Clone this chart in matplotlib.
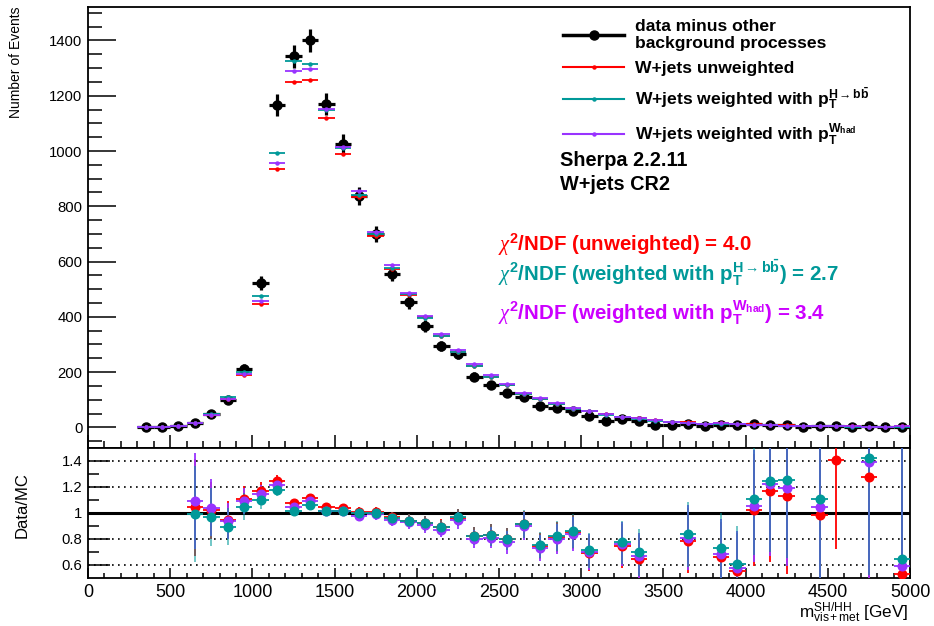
import numpy as np
import matplotlib
matplotlib.use("Agg")
import matplotlib.pyplot as plt
from matplotlib.lines import Line2D
from matplotlib.ticker import MultipleLocator, FixedLocator

plt.rcParams["font.family"] = ["Liberation Sans", "DejaVu Sans"]
plt.rcParams["mathtext.fontset"] = "custom"
plt.rcParams["mathtext.default"] = "regular"
plt.rcParams["mathtext.it"] = "Liberation Serif:italic"
plt.rcParams["mathtext.sf"] = "Liberation Sans"

# 100 GeV bins from 300 to 5000 GeV
bin_edges = np.arange(300, 5001, 100)

# data minus other backgrounds
data = [1, 2, 6, 16, 47, 98, 212, 523, 1167, 1342, 1400, 1171, 1026, 838, 700,
        555, 453, 366, 295, 265, 184, 153, 123, 111, 78, 70, 58, 42, 22, 29,
        22, 10, 9, 14, 6, 10, 7, 11, 9, 8, 2, 5, 6, 1, 4, 0.5, 2]
data_err = [1, 1.5, 2.5, 4.5, 8, 11.5, 16, 26, 39, 41, 43, 39, 37, 32, 29,
            26, 23, 21, 19, 18, 15.5, 14, 12.5, 12, 10, 9.5, 8.5, 7.5, 5.5, 6,
            5.5, 3.5, 3.5, 4.3, 3, 3.5, 3, 3.8, 3.5, 3.2, 1.6, 2.5, 2.8, 1.2, 2.3, 0.8, 1.6]

# W+jets predictions
mc_unw = [1, 2, 6, 15.3, 46, 103, 191, 448, 934, 1248, 1256, 1120, 989, 834, 692,
          573, 480, 398, 330, 273, 222, 183, 153, 121, 103, 85, 67, 60.5, 47, 39,
          34, 25, 20, 17.8, 14, 15.2, 12.6, 10.75, 7.7, 7.1, 6, 5.05, 4.25, 3.5, 3.15, 2.5, 3.8]
mc_hbb = [1, 2, 6, 16.2, 48.5, 109.5, 202, 475, 991, 1324, 1316, 1150, 1010, 840, 700,
          578, 481, 397, 331, 274, 223, 184, 154, 121, 103.5, 85.5, 67, 58.7, 46, 37.5,
          31.5, 24, 19, 16.7, 13, 13.7, 11.5, 9.9, 7.2, 6.4, 5.5, 4.5, 3.8, 3.2, 2.8, 2.3, 3.1]
mc_whad = [1, 2, 6, 14.6, 45, 104, 194, 456, 958, 1290, 1298, 1153, 1016, 855, 706,
           588, 488, 404, 337, 281, 229, 189, 158, 123, 106.5, 87.5, 69, 59.5, 47, 38,
           33, 25, 19.5, 17.2, 13.5, 14.6, 12.2, 10.4, 7.4, 6.7, 5.7, 4.75, 4, 3.3, 2.9, 2.4, 3.4]

nan = np.nan
# Data/MC ratios (NaN where outside the displayed range)
ratio_unw = [nan, nan, nan, 1.043, 1.02, 0.95, 1.11, 1.166, 1.25, 1.074, 1.112, 1.043, 1.036,
             1.005, 1.01, 0.966, 0.94, 0.92, 0.894, 0.965, 0.825, 0.83, 0.80, 0.912, 0.75,
             0.815, 0.855, 0.69, nan, 0.745, 0.65, nan, nan, 0.787, nan, 0.66, 0.556, 1.023,
             1.17, 1.128, nan, 0.987, 1.41, nan, 1.274, nan, 0.53]
ratio_hbb = [nan, nan, nan, 0.99, 0.97, 0.895, 1.05, 1.10, 1.177, 1.012, 1.064, 1.018, 1.018,
             1.0, 1.0, 0.96, 0.942, 0.92, 0.89, 0.966, 0.825, 0.833, 0.80, 0.915, 0.754,
             0.82, 0.864, 0.715, nan, 0.774, 0.697, nan, nan, 0.838, nan, 0.73, 0.61, 1.108,
             1.25, 1.254, nan, 1.108, nan, nan, 1.423, nan, 0.65]
ratio_whad = [nan, nan, nan, 1.095, 1.04, 0.94, 1.095, 1.146, 1.218, 1.049, 1.09, 1.018, 1.012,
              0.98, 0.99, 0.944, 0.928, 0.905, 0.873, 0.943, 0.80, 0.81, 0.775, 0.90, 0.73,
              0.80, 0.84, 0.70, nan, 0.76, 0.67, nan, nan, 0.81, nan, 0.685, 0.574, 1.056,
              1.22, 1.19, nan, 1.05, nan, nan, 1.39, nan, 0.594]
ratio_err = [nan, nan, nan, 0.37, 0.22, 0.14, 0.10, 0.07, 0.045, 0.035, 0.035, 0.035, 0.035,
             0.04, 0.04, 0.045, 0.05, 0.055, 0.06, 0.065, 0.07, 0.083, 0.087, 0.105, 0.10,
             0.115, 0.13, 0.135, nan, 0.167, 0.18, nan, nan, 0.25, nan, 0.27, 0.29, 0.43,
             0.55, 0.6, nan, 0.7, 0.69, nan, 0.9, nan, 1.0]

RED = "#ff0000"
TEAL = "#009999"
PURPLE = "#9933ff"
PURPLE_TXT = "#cc00ff"

centers = 0.5 * (bin_edges[:-1] + bin_edges[1:])
half = 0.5 * np.diff(bin_edges)

W, H = 934, 626
fig = plt.figure(figsize=(W / 100, H / 100), dpi=100)
ax = fig.add_axes([88 / W, 1 - 448 / H, 822 / W, 441 / H])
rax = fig.add_axes([88 / W, 1 - 578 / H, 822 / W, 130 / H])

# ---- upper panel: distributions
ax.errorbar(centers, data, xerr=half, yerr=data_err, fmt="o", color="black",
            ms=6.5, lw=2.3, capsize=0, zorder=3)
for mc, col in [(mc_unw, RED), (mc_hbb, TEAL), (mc_whad, PURPLE)]:
    ax.errorbar(centers, mc, xerr=half, fmt="o", color=col, ms=2.2, lw=1.3,
                capsize=0, zorder=4)

ax.set_xlim(0, 5000)
ax.set_ylim(-74.5, 1521)
ax.xaxis.set_major_locator(MultipleLocator(500))
ax.xaxis.set_minor_locator(MultipleLocator(100))
ax.yaxis.set_major_locator(MultipleLocator(200))
ax.yaxis.set_minor_locator(MultipleLocator(50))
ax.tick_params(which="both", direction="in", top=False, right=False,
               labelbottom=False, width=1.1)
ax.tick_params(axis="y", which="major", length=20, labelsize=10.7, pad=4)
ax.tick_params(axis="y", which="minor", length=10)
ax.tick_params(axis="x", which="major", length=9.4)
ax.tick_params(axis="x", which="minor", length=4.7)
for s in ax.spines.values():
    s.set_linewidth(1.3)

# legend
handles = [
    Line2D([], [], color="black", lw=2.5, marker="o", ms=6.5),
    Line2D([], [], color=RED, lw=1.5, marker="o", ms=2.2),
    Line2D([], [], color=TEAL, lw=1.5, marker="o", ms=2.2),
    Line2D([], [], color=PURPLE, lw=1.5, marker="o", ms=2.2),
]
labels = [
    "data minus other\nbackground processes",
    "W+jets unweighted",
    r"W+jets weighted with $p_{T}^{H\rightarrow b\bar{b}}$",
    r"W+jets weighted with $p_{T}^{W_{had}}$",
]
ax.legend(handles, labels, loc="upper left", bbox_to_anchor=(0.578, 0.973),
          frameon=False, prop={"weight": "bold", "size": 12.6},
          handlelength=3.5, handletextpad=0.6, labelspacing=0.55,
          borderpad=0, borderaxespad=0)

fig.text(560 / W, 1 - 161 / H, "Sherpa 2.2.11", fontsize=14.3, fontweight="bold",
         va="center", ha="left")
fig.text(560 / W, 1 - 184 / H, "W+jets CR2", fontsize=14.3, fontweight="bold",
         va="center", ha="left")

fig.text(498 / W, 1 - 251 / H, r"$\mathit{\chi}^{2}$/NDF (unweighted) = 4.0",
         color=RED, fontsize=14.8, fontweight="bold", va="baseline", ha="left")
fig.text(498 / W, 1 - 280 / H,
         r"$\mathit{\chi}^{2}$/NDF (weighted with $p_{T}^{H\rightarrow b\bar{b}}$) = 2.7",
         color=TEAL, fontsize=14.8, fontweight="bold", va="baseline", ha="left")
fig.text(498 / W, 1 - 319.3 / H,
         r"$\mathit{\chi}^{2}$/NDF (weighted with $p_{T}^{W_{had}}$) = 3.4",
         color=PURPLE_TXT, fontsize=14.8, fontweight="bold", va="baseline", ha="left")

fig.text(16 / W, 1 - 7 / H, "Number of Events", rotation=90, fontsize=10,
         ha="center", va="top")

# ---- lower panel: ratios
for y in (0.6, 0.8, 1.2, 1.4):
    rax.axhline(y, color="black", lw=1.2, ls=(0, (1, 2.6)), zorder=1)
rax.axhline(1.0, color="black", lw=2.2, zorder=2)

for r, col in [(ratio_unw, RED), (ratio_whad, PURPLE), (ratio_hbb, TEAL)]:
    cont = rax.errorbar(centers, r, xerr=half, yerr=ratio_err, fmt="o", color=col,
                        ms=6.2, lw=1.3, capsize=0, zorder=3)
    if col == TEAL:
        # vertical bars drawn semi-transparent over the purple ones
        cont[2][-1].set_alpha(0.6)

rax.set_xlim(0, 5000)
rax.set_ylim(0.5, 1.5)
rax.xaxis.set_major_locator(MultipleLocator(500))
rax.xaxis.set_minor_locator(MultipleLocator(100))
rax.set_yticks([0.6, 0.8, 1.0, 1.2, 1.4], labels=["0.6", "0.8", "1", "1.2", "1.4"])
rax.yaxis.set_minor_locator(FixedLocator([0.7, 0.9, 1.1, 1.3]))
rax.tick_params(which="both", direction="in", top=False, right=False, width=1.1)
rax.tick_params(axis="y", which="major", length=16, labelsize=10.7, pad=4)
rax.tick_params(axis="y", which="minor", length=8)
rax.tick_params(axis="x", which="major", length=7, labelsize=13, pad=4)
rax.tick_params(axis="x", which="minor", length=3.3)
for s in rax.spines.values():
    s.set_linewidth(1.3)

fig.text(22 / W, 1 - 505 / H, "Data/MC", rotation=90, fontsize=12,
         ha="center", va="center")
fig.text(908 / W, 1 - 618 / H, r"$\mathsf{m}_{\mathsf{vis+met}}^{\mathsf{SH/HH}}$ [GeV]",
         fontsize=12.3, ha="right", va="baseline")

fig.savefig("out.png", dpi=100)
